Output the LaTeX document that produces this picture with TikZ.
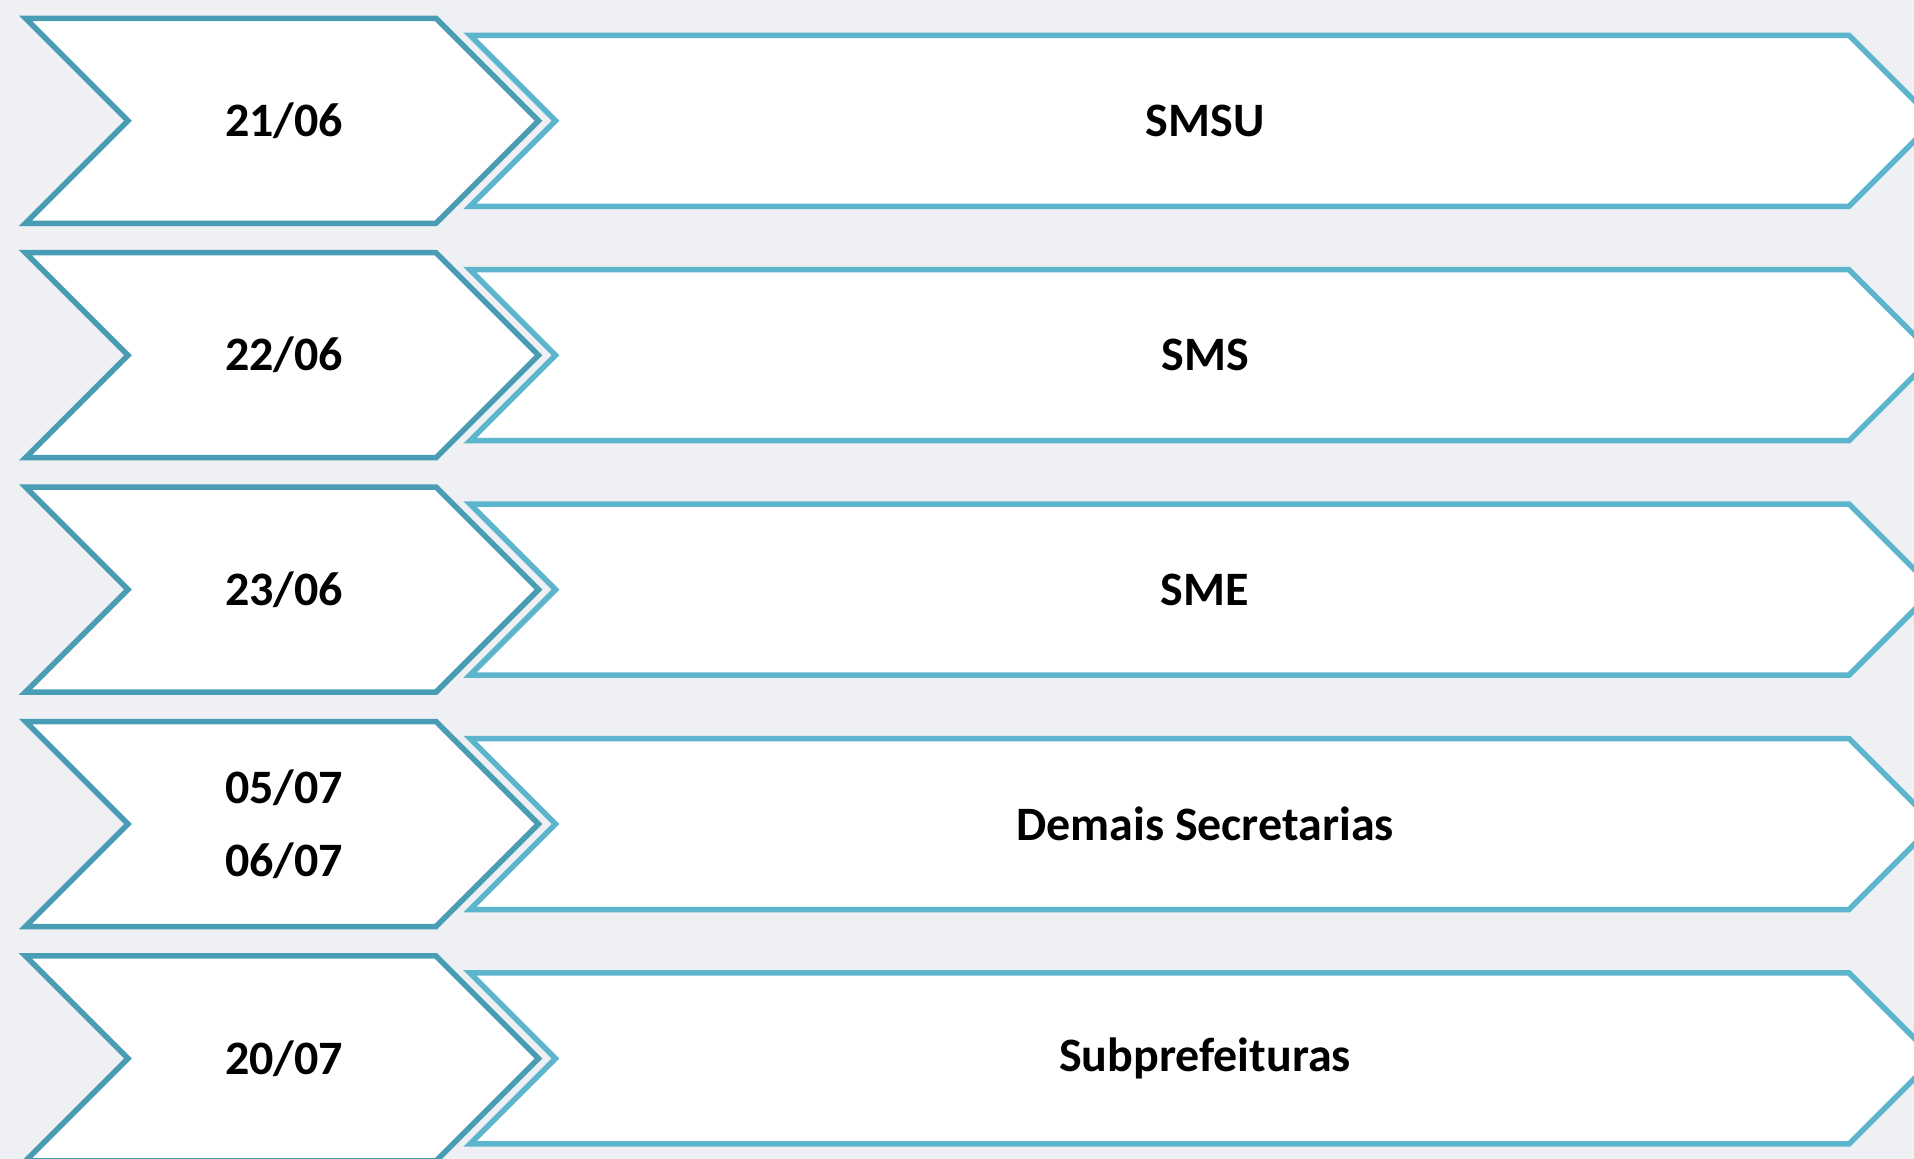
\documentclass[tikz,border=0pt]{standalone}
\usepackage{fontspec}
\setmainfont{Carlito}
\definecolor{bgc}{RGB}{239,240,243}
\definecolor{darkteal}{RGB}{72,157,181}
\definecolor{lightteal}{RGB}{93,180,205}
\begin{document}
\begin{tikzpicture}[x=1pt,y=-1pt,
  datebox/.style={draw=darkteal,line width=5.5pt,fill=white,line join=miter},
  labelbox/.style={draw=lightteal,line width=5.5pt,fill=white!97!bgc,line join=miter},
  txt/.style={font=\fontsize{48}{73}\selectfont\bfseries,align=center,inner sep=0pt}]
\useasboundingbox (0,0) rectangle (1914,1159);
\clip (0,0) rectangle (1914,1159);
\fill[bgc] (0,0) rectangle (1914,1159);
\foreach \i/\d/\l in {0/{21/06}/SMSU,1/{22/06}/SMS,2/{23/06}/SME,3/{05/07\\06/07}/Demais Secretarias,4/{20/07}/Subprefeituras}{
  \pgfmathsetmacro{\cy}{120.8+234.4*\i}
  % label chevron
  \draw[labelbox] (470,\cy-85.5) -- (1849,\cy-85.5) -- (1934.5,\cy) -- (1849,\cy+85.5) -- (470,\cy+85.5) -- (555.5,\cy) -- cycle;
  % date chevron
  \draw[datebox] (25.5,\cy-102.5) -- (436,\cy-102.5) -- (538.5,\cy) -- (436,\cy+102.5) -- (25.5,\cy+102.5) -- (128,\cy) -- cycle;
  \node[txt] (d\i) at (284,\cy) {\d};
  \node[txt] (l\i) at (1205,\cy) {\l};
}
\end{tikzpicture}
\end{document}
